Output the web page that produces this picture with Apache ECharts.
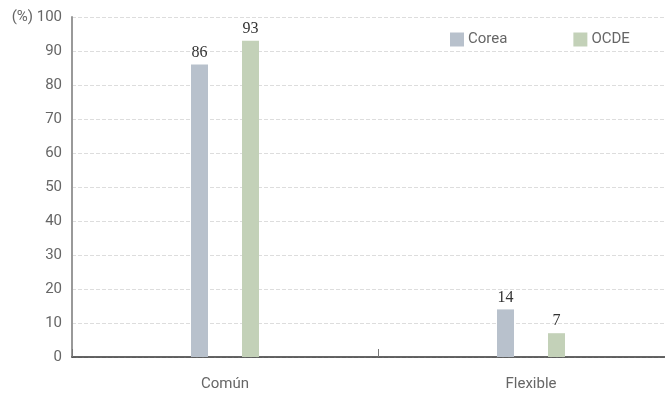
<!DOCTYPE html>
<html><head><meta charset="utf-8">
<script src="https://cdn.jsdelivr.net/npm/echarts@6/dist/echarts.min.js"></script>
<style>html,body{margin:0;padding:0;background:#fff}#c{width:665px;height:394px}</style>
</head><body><div id="c"></div>
<script>
const categories = ['Común', 'Flexible'];
const seriesNames = ['Corea', 'OCDE'];
const coreaValues = [86, 14];
const ocdeValues = [93, 7];
const yTicks = [0, 10, 20, 30, 40, 50, 60, 70, 80, 90, 100];

const chart = echarts.init(document.getElementById('c'), null, {renderer: 'canvas'});
const labelStyle = {show: true, position: 'top', distance: 4, fontFamily: 'Liberation Serif', fontSize: 16, color: '#333'};
chart.setOption({
  animation: false,
  textStyle: {fontFamily: 'Roboto'},
  legend: {
    data: seriesNames, top: 27, left: 445, itemWidth: 14, itemHeight: 14, itemGap: 66,
    icon: 'rect', textStyle: {fontSize: 15, color: '#666', fontFamily: 'Roboto', padding: [0, 0, 0, -1]}
  },
  grid: {left: 72, top: 17, height: 340, width: 612, outerBoundsMode: 'none', containLabel: false},
  xAxis: {
    type: 'category', data: categories,
    axisLine: {lineStyle: {color: '#333', width: 1.5}},
    axisTick: {show: true, inside: true, length: 8, lineStyle: {color: '#777'}},
    axisLabel: {fontSize: 15, color: '#666', margin: 20}
  },
  yAxis: {
    type: 'value', min: yTicks[0], max: yTicks[yTicks.length - 1], interval: 10,
    axisLine: {show: true, lineStyle: {color: '#999', width: 2}},
    axisTick: {show: false},
    axisLabel: {fontSize: 15, color: '#666', margin: 10,
      formatter: v => v === 100 ? '(%) 100' : String(v)},
    splitLine: {lineStyle: {color: '#ddd', type: 'dashed'}}
  },
  series: [
    {name: seriesNames[0], type: 'bar', data: coreaValues, barWidth: 17, barGap: '200%',
     itemStyle: {color: '#b8c1cc'}, label: labelStyle},
    {name: seriesNames[1], type: 'bar', data: ocdeValues, barWidth: 17,
     itemStyle: {color: '#c3d1b8'}, label: labelStyle}
  ]
});
</script></body></html>
